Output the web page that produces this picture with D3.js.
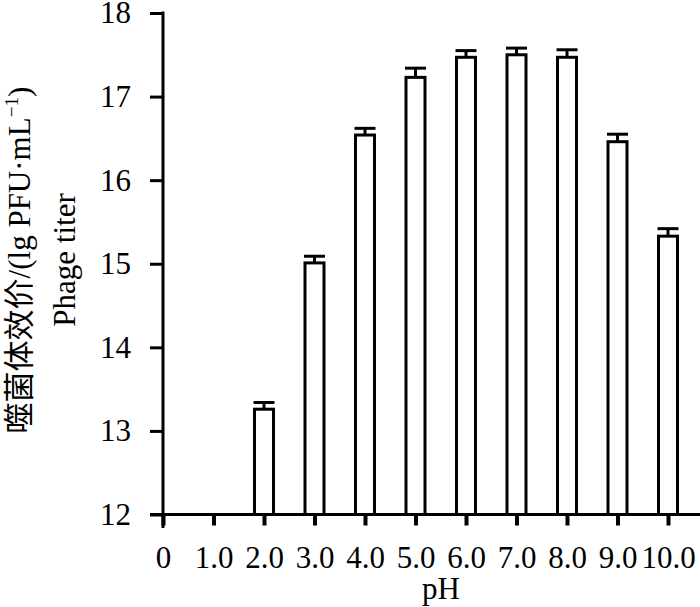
<!DOCTYPE html>
<html>
<head>
<meta charset="utf-8">
<script src="https://cdn.jsdelivr.net/npm/d3@7/dist/d3.min.js"></script>
<style>
  html, body { margin: 0; padding: 0; background: #fff; }
  svg { display: block; }
</style>
</head>
<body>
<svg id="chart" width="700" height="607"></svg>
<script>
const categories = ["0", "1.0", "2.0", "3.0", "4.0", "5.0", "6.0", "7.0", "8.0", "9.0", "10.0"];
const titers     = [null, null, 13.26, 15.01, 16.54, 17.23, 17.47, 17.50, 17.47, 16.46, 15.33];
const errors     = [null, null, 0.08, 0.08, 0.08, 0.11, 0.08, 0.08, 0.09, 0.09, 0.09];
const yTicks     = [12, 13, 14, 15, 16, 17, 18];
const xTitle = "pH";
const yTitleCn = "噬菌体效价/(lg PFU·mL";
const yTitleEn = "Phage titer";

const svg = d3.select("#chart");
const fontSerif = "'Liberation Serif', 'Times New Roman', serif";
const fs = 31;

const x = d3.scalePoint().domain(categories).range([163, 668]);
const y = d3.scaleLinear().domain([12, 18]).range([514.5, 13]);

const data = categories.map((c, i) => ({ c, v: titers[i], e: errors[i] }));
const barW = 19;

// bars
const g = svg.append("g");
g.selectAll("rect.bar").data(data.filter(d => d.v != null)).join("rect")
  .attr("class", "bar")
  .attr("x", d => x(d.c) - barW / 2)
  .attr("y", d => y(d.v))
  .attr("width", barW)
  .attr("height", d => y(12) - y(d.v))
  .attr("fill", "#fff")
  .attr("stroke", "#000")
  .attr("stroke-width", 3);

// error bars (upper half)
g.selectAll("line.err").data(data.filter(d => d.v != null)).join("line")
  .attr("x1", d => x(d.c)).attr("x2", d => x(d.c))
  .attr("y1", d => y(d.v)).attr("y2", d => y(d.v + d.e))
  .attr("stroke", "#000").attr("stroke-width", 3);
g.selectAll("line.cap").data(data.filter(d => d.v != null)).join("line")
  .attr("x1", d => x(d.c) - 10.5).attr("x2", d => x(d.c) + 10.5)
  .attr("y1", d => y(d.v + d.e)).attr("y2", d => y(d.v + d.e))
  .attr("stroke", "#000").attr("stroke-width", 3);

// y axis
const yAxis = d3.axisLeft(y).tickValues(yTicks).tickFormat(d3.format("d"))
  .tickSize(13).tickPadding(19).tickSizeOuter(0);
const ya = svg.append("g").attr("transform", "translate(163,0)").call(yAxis);
ya.select(".domain").remove();
ya.selectAll(".tick line").attr("stroke", "#000").attr("stroke-width", 3);
ya.selectAll(".tick text").attr("font-family", fontSerif).attr("font-size", fs).attr("fill", "#000");
svg.append("line").attr("x1", 163).attr("x2", 163).attr("y1", y(18) - 1.5).attr("y2", 528)
  .attr("stroke", "#000").attr("stroke-width", 3);

// x axis
const xAxis = d3.axisBottom(x).tickSize(11).tickPadding(20).tickSizeOuter(0);
const xa = svg.append("g").attr("transform", `translate(0,${y(12)})`).call(xAxis);
xa.select(".domain").remove();
xa.selectAll(".tick line").attr("stroke", "#000").attr("stroke-width", 4);
xa.selectAll(".tick text").attr("font-family", fontSerif).attr("font-size", fs).attr("fill", "#000");
svg.append("line").attr("x1", 150).attr("x2", 700).attr("y1", y(12)).attr("y2", y(12))
  .attr("stroke", "#000").attr("stroke-width", 3);

// x title
svg.append("text").attr("x", 441).attr("y", 599).attr("text-anchor", "middle")
  .attr("font-family", fontSerif).attr("font-size", fs).attr("fill", "#000").text(xTitle);

// y titles
const t1 = svg.append("text").attr("transform", "translate(30,260) rotate(-90)")
  .attr("text-anchor", "middle").attr("font-family", fontSerif + ", 'Noto Sans CJK SC'")
  .attr("font-size", fs).attr("fill", "#000");
t1.append("tspan").text(yTitleCn);
t1.append("tspan").attr("font-size", fs * 0.62).attr("dy", -12).text("−1");
t1.append("tspan").attr("dy", 12).text(")");

svg.append("text").attr("transform", "translate(75,260) rotate(-90)")
  .attr("text-anchor", "middle").attr("font-family", fontSerif)
  .attr("font-size", fs).attr("fill", "#000").text(yTitleEn);
</script>
</body>
</html>
